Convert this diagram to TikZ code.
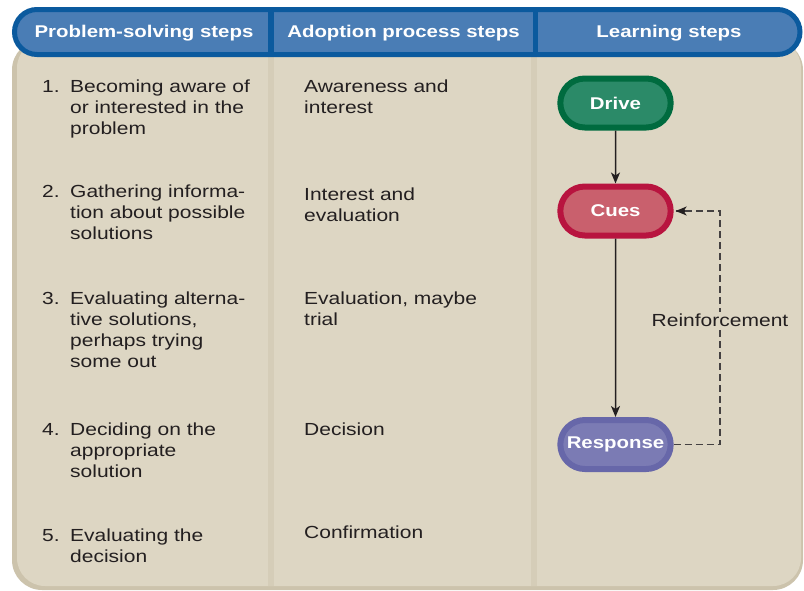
\documentclass[tikz,border=0pt]{standalone}
\usepackage{fontspec}
\setmainfont[FakeStretch=1.2]{Liberation Sans}
\usetikzlibrary{shapes.misc,arrows.meta}
\definecolor{beige}{HTML}{DDD6C3}
\definecolor{edgebeige}{HTML}{CCC3AC}
\definecolor{stripbeige}{HTML}{D5CDB8}
\definecolor{hfill}{HTML}{4A7DB5}
\definecolor{hdark}{HTML}{0B5A9E}
\definecolor{txt}{HTML}{231F20}
\definecolor{drivefill}{HTML}{2B8A68}
\definecolor{driveedge}{HTML}{006B3F}
\definecolor{cuesfill}{HTML}{C9606D}
\definecolor{cuesedge}{HTML}{B8143F}
\definecolor{respfill}{HTML}{7B7BB4}
\definecolor{respedge}{HTML}{6767A9}
\tikzset{
  body/.style={inner sep=0pt, text=txt, font=\fontsize{17.5}{21}\selectfont, align=left, anchor=north west, yshift=12.8pt},
  numtxt/.style={inner sep=0pt, text=txt, font=\fontsize{17.5}{21}\selectfont, anchor=base west},
  head/.style={inner sep=0pt, text=white, font=\fontsize{17}{20}\selectfont\bfseries, anchor=base},
  stadium/.style={rounded rectangle, line width=6pt, minimum width=117pt, minimum height=49pt,
    text=white, font=\fontsize{17}{20}\selectfont\bfseries},
  flow/.style={line width=1.5pt, txt, -{Stealth[length=11pt,width=9pt,inset=3pt]}},
  feedback/.style={line width=1.3pt, draw=txt!85, dash pattern=on 7pt off 4pt},
}
\begin{document}
\begin{tikzpicture}[x=1pt,y=-1pt]
\useasboundingbox (0,0) rectangle (804,590);
\fill[white] (0,0) rectangle (804,590);
% body panel
\fill[edgebeige, rounded corners=30pt] (12,40) rectangle (803,590);
\fill[beige, rounded corners=28pt] (17,40) rectangle (801,586);
% column strips
\fill[stripbeige] (268,57) rectangle (274,586);
\fill[stripbeige] (531,57) rectangle (537,586);
% header band
\draw[fill=hfill, draw=hdark, line width=5pt, rounded corners=22.5pt] (14.5,9.5) rectangle (800,54.5);
\draw[hdark, line width=6pt] (271,9.5) -- (271,54.5);
\draw[hdark, line width=5pt] (535.5,9.5) -- (535.5,54.5);
\node[head] (h1) at (144,37) {Problem-solving steps};
\node[head] (h2) at (403.5,37) {Adoption process steps};
\node[head] (h3) at (669,37) {Learning steps};
% column 1
\node[numtxt] (n1) at (42,92) {1.};
\node[body] (p1) at (70,92) {Becoming aware of\\or interested in the\\problem};
\node[numtxt] (n2) at (42,197) {2.};
\node[body] (p2) at (70,197) {Gathering informa-\\tion about possible\\solutions};
\node[numtxt] (n3) at (42,304) {3.};
\node[body] (p3) at (70,304) {Evaluating alterna-\\tive solutions,\\perhaps trying\\some out};
\node[numtxt] (n4) at (42,435) {4.};
\node[body] (p4) at (70,435) {Deciding on the\\appropriate\\solution};
\node[numtxt] (n5) at (42,541) {5.};
\node[body] (p5) at (70,541) {Evaluating the\\decision};
% column 2
\node[body] (a1) at (304,92) {Awareness and\\interest};
\node[body] (a2) at (304,200) {Interest and\\evaluation};
\node[body] (a3) at (304,304) {Evaluation, maybe\\trial};
\node[body] (a4) at (304,435) {Decision};
\node[body] (a5) at (304,538) {Confirmation};
% learning steps
\node[stadium, fill=drivefill, draw=driveedge] (drive) at (615.5,103) {Drive};
\node[stadium, fill=cuesfill, draw=cuesedge] (cues) at (615.5,211) {Cues};
\node[stadium, fill=respfill, draw=respedge] (resp) at (615.5,444.5) {Response};
\draw[flow] (drive) -- (cues);
\draw[flow] (cues) -- (resp);
\coordinate (fb1) at (720,444.5);
\coordinate (fb2) at (720,211);
\draw[feedback] (resp.east) -- (fb1) -- (fb2) -- ([xshift=2pt]cues.east);
\draw[line width=1.3pt, txt, -{Stealth[length=11pt,width=9pt,inset=3pt]}] ([xshift=11pt]cues.east) -- ([xshift=2pt]cues.east);
\node[fill=beige, inner sep=2pt, text=txt, font=\fontsize{17.5}{21}\selectfont] (reinf) at (720,320) {Reinforcement};
\end{tikzpicture}
\end{document}
